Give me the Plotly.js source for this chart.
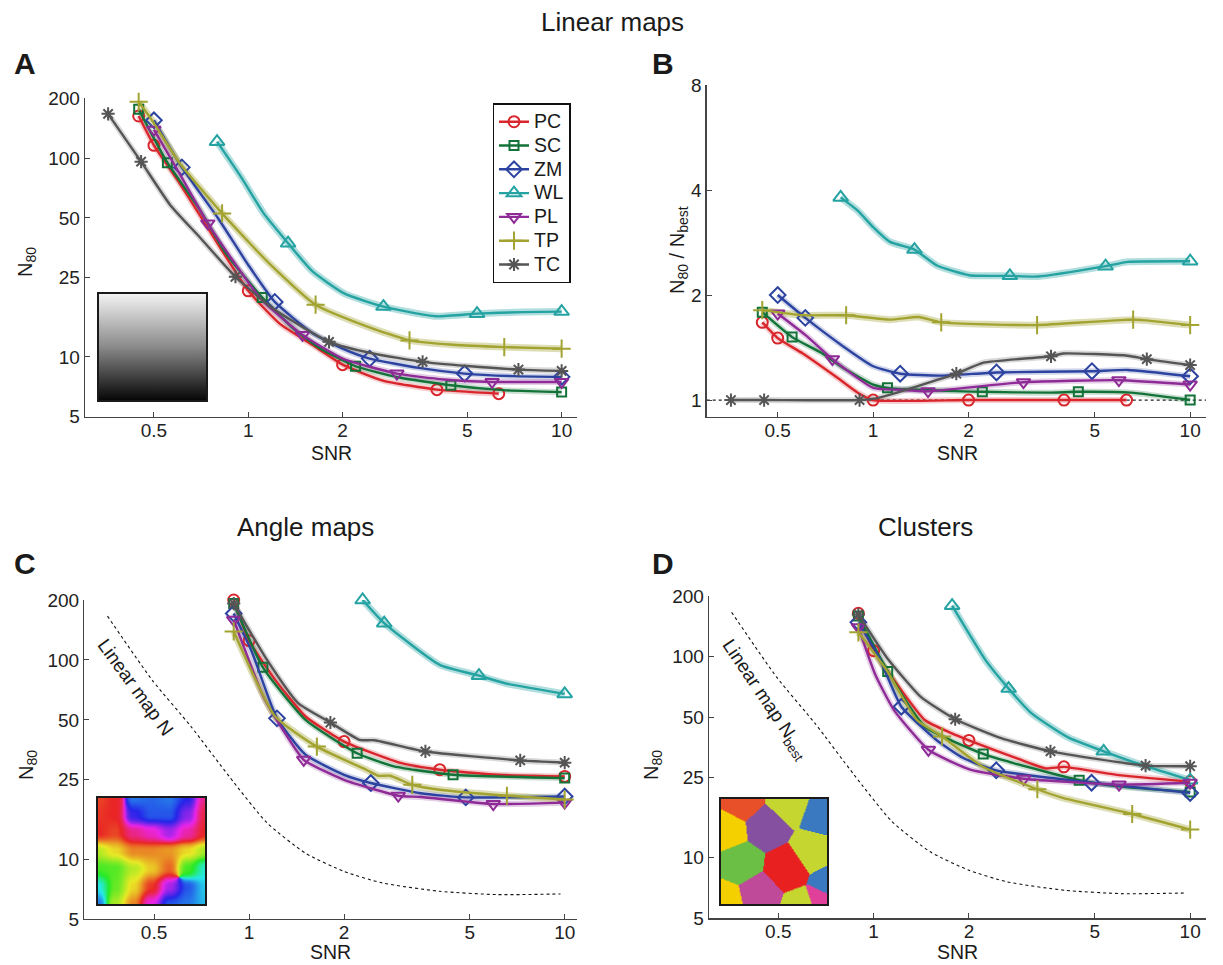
<!DOCTYPE html>
<html><head><meta charset="utf-8">
<script src="https://cdn.plot.ly/plotly-3.0.1.min.js"></script>
<style>html,body{margin:0;padding:0;background:#fff}#chart{width:1223px;height:965px}</style>
</head><body><div id="chart"></div>
<script>
// ---------------- DATA ----------------
const seriesNames = ['PC','SC','ZM','WL','PL','TP','TC'];
const snrTicks = [0.5, 1, 2, 5, 10];
const nTicks = [5, 10, 25, 50, 100, 200];
const ratioTicks = [1, 2, 4, 8];

// Panel A: Linear maps, N80
const A_PC_snr = [0.447,0.5,0.6,0.74,1.0,1.26,1.6,2.0,2.69,4.0,6.3];
const A_PC_n   = [163,116,76,45,21.5,14.7,11.5,9.14,7.6,6.84,6.53];
const A_PC_mk  = [0,1,4,7,9,10];
const A_SC_snr = [0.447,0.552,0.7,0.85,1.108,1.4,1.7,2.2,3.0,4.43,6.5,10];
const A_SC_n   = [176,94.8,55,33,19.9,13.8,11,8.97,7.9,7.2,6.8,6.65];
const A_SC_mk  = [0,1,4,7,9,11];
const A_ZM_snr = [0.5,0.614,0.8,1.0,1.215,1.6,2.0,2.44,3.5,4.9,7,10];
const A_ZM_n   = [155,89.8,50,29,18.9,13.2,11,9.8,8.8,8.24,8.0,7.93];
const A_ZM_mk  = [0,1,4,7,9,11];
const A_WL_snr = [0.795,0.95,1.12,1.34,1.6,2.03,2.7,3.98,5.37,7.5,10];
const A_WL_n   = [121,80,52.7,37.3,27,20.8,17.9,16.0,16.5,16.8,16.9];
const A_WL_mk  = [0,3,6,8,10];
const A_PL_snr = [0.5,0.6,0.743,0.9,1.1,1.49,2.0,2.98,4.2,6.0,10];
const A_PL_n   = [139,85,46.9,30,19.5,12.9,9.8,8.24,7.7,7.48,7.48];
const A_PL_mk  = [0,2,5,7,9,10];
const A_TP_snr = [0.447,0.5,0.605,0.825,1.0,1.155,1.64,2.4,3.27,4.5,6.56,10];
const A_TP_n   = [192,150,94,52.7,38,30,18.3,14.2,12.1,11.5,11.2,11.0];
const A_TP_mk  = [0,3,6,8,10,11];
const A_TC_snr = [0.357,0.455,0.564,0.7,0.91,1.2,1.81,2.5,3.6,5,7.28,10];
const A_TC_n   = [167,96,58,40,25.3,17.5,11.9,10.4,9.44,9.0,8.63,8.5];
const A_TC_mk  = [0,1,4,6,8,10,11];

// Panel B: Linear maps, N80 / Nbest
const B_PC_snr = [0.447,0.5,0.6,0.76,0.894,1.0,2.0,4.0,6.3];
const B_PC_r   = [1.67,1.505,1.36,1.17,1.05,1.0,1.0,1.0,1.0];
const B_PC_mk  = [0,1,5,6,7,8];
const B_SC_snr = [0.447,0.555,0.688,0.805,1.0,1.11,2.21,3.58,4.44,6.5,10];
const B_SC_r   = [1.785,1.515,1.364,1.236,1.108,1.084,1.056,1.05,1.056,1.05,1.0];
const B_SC_mk  = [0,1,5,6,8,10];
const B_ZM_snr = [0.5,0.611,0.805,1.0,1.217,1.63,2.45,4.9,6.36,10];
const B_ZM_r   = [2.0,1.72,1.425,1.25,1.19,1.175,1.2,1.21,1.22,1.17];
const B_ZM_mk  = [0,1,4,6,7,9];
const B_WL_snr = [0.79,0.894,1.0,1.13,1.35,1.59,2.01,2.7,3.31,5.41,6.36,10];
const B_WL_r   = [3.81,3.49,3.13,2.84,2.70,2.43,2.28,2.27,2.26,2.42,2.49,2.5];
const B_WL_mk  = [0,4,7,9,11];
const B_PL_snr = [0.5,0.62,0.744,1.0,1.22,1.49,2.98,5.96,10];
const B_PL_r   = [1.77,1.52,1.31,1.084,1.07,1.06,1.125,1.14,1.108];
const B_PL_mk  = [0,2,5,6,7,8];
const B_TP_snr = [0.447,0.6,0.822,1.13,1.39,1.64,3.29,6.61,10];
const B_TP_r   = [1.81,1.75,1.75,1.70,1.73,1.67,1.64,1.70,1.64];
const B_TP_mk  = [0,2,5,6,7,8];
const B_TC_snr = [0.356,0.453,0.906,1.04,1.83,2.23,3.64,3.97,6.36,7.3,10];
const B_TC_r   = [1.0,1.0,1.0,1.015,1.19,1.28,1.335,1.36,1.34,1.31,1.26];
const B_TC_mk  = [0,1,2,4,6,9,10];

// Panel C: Angle maps, N80
const C_PC_snr = [0.894,1.0,1.21,1.51,2.0,3.04,4.02,6.11,10];
const C_PC_n   = [200,125,79.4,52,38.9,30.3,28.1,26.5,26.0];
const C_PC_mk  = [0,1,4,6,8];
const C_SC_snr = [0.894,1.106,1.51,2.2,2.88,4.43,10];
const C_SC_n   = [192,91.8,50,34,29.2,26.5,25.5];
const C_SC_mk  = [0,1,3,5,6];
const C_ZM_snr = [0.894,1.02,1.226,1.51,2.0,2.43,3.5,4.86,10];
const C_ZM_n   = [171,110,50.9,33.4,26.5,24.1,21.4,20.4,20.6];
const C_ZM_mk  = [0,2,5,7,8];
const C_WL_snr = [2.29,2.68,4.02,5.35,6.47,10];
const C_WL_n   = [200,153,94.4,83.4,76.4,67.5];
const C_WL_mk  = [0,1,3,5];
const C_PL_snr = [0.894,1.11,1.28,1.49,2.0,2.97,3.5,5.94,10];
const C_PL_n   = [159,65.5,44.6,31.5,25,20.8,20.5,18.9,19.2];
const C_PL_mk  = [0,3,5,7,8];
const C_TP_snr = [0.894,1.21,1.64,2.36,2.57,2.8,3.29,4.02,6.56,10];
const C_TP_n   = [139,52,36.7,28,26.2,26.2,23.6,22.3,20.8,19.9];
const C_TP_mk  = [0,2,6,8,9];
const C_TC_snr = [0.894,1.14,1.43,1.81,2.24,2.5,3.62,7.23,10];
const C_TC_n   = [192,100,60.7,48.5,39.7,39.5,34.7,31.3,30.5];
const C_TC_mk  = [0,3,6,7,8];

// Linear map best N (dashed reference in C and D)
const LIN_snr = [0.356,0.494,0.654,0.865,1.14,1.51,2.0,2.64,4.02,6.11,9.7];
const LIN_n   = [166,79,46.4,26,15.2,10.7,8.67,7.59,6.89,6.63,6.68];

// Panel D: Clusters, N80
const D_PC_snr = [0.895,1.0,1.16,1.45,1.76,2.0,2.9,3.5,3.99,5.8,10];
const D_PC_n   = [164,107,76.3,48.4,41.6,38.3,30.8,27.8,28.3,25.9,23.9];
const D_PC_mk  = [0,1,5,8,10];
const D_SC_snr = [0.895,1.108,1.45,2.22,2.75,4.46,5.8,10];
const D_SC_n   = [159,84.3,44.9,32.8,29.6,24.3,22.7,21.2];
const D_SC_mk  = [0,1,3,5,7];
const D_ZM_snr = [0.895,1.04,1.224,1.58,1.92,2.44,4.88,10];
const D_ZM_n   = [148,99,56.3,38.5,31.3,27.2,23.6,21.0];
const D_ZM_mk  = [0,2,5,6,7];
const D_WL_snr = [1.77,2.26,2.67,3.15,3.62,4.16,5.33,7.23,10];
const D_WL_n   = [179,95.7,69.3,52.3,44.9,39.3,33.8,28.5,24.3];
const D_WL_mk  = [0,2,6,8];
const D_PL_snr = [0.895,1.01,1.16,1.49,2.02,2.98,5.96,10];
const D_PL_n   = [140,82,54.2,34.4,27.4,24.7,23.1,23.6];
const D_PL_mk  = [0,3,5,6,7];
const D_TP_snr = [0.895,1.1,1.37,1.645,2.2,3.29,3.93,6.56,10];
const D_TP_n   = [132,85.3,48.4,40.1,28.5,21.9,19.9,16.5,13.8];
const D_TP_mk  = [0,3,5,7,8];
const D_TC_snr = [0.895,1.1,1.41,1.81,2.53,3.62,7.23,10];
const D_TC_n   = [162,99,63,48.8,39.3,33.8,28.7,28.5];
const D_TC_mk  = [0,3,5,6,7];

// ---------------- STYLE ----------------
const W = 1223, H = 965;
const colors = {PC:'#d8262c', SC:'#137238', ZM:'#2d43a0', WL:'#25a2a2', PL:'#8e2b96', TP:'#a2a331', TC:'#555555'};
const symbols = {PC:'circle-open', SC:'square-open', ZM:'diamond-open', WL:'triangle-up-open',
                 PL:'triangle-down-open', TP:'cross-thin-open', TC:'asterisk-open'};
const msize = {PC:11, SC:9, ZM:12, WL:13, PL:12, TP:13, TC:11};
const FONT = 'Liberation Sans, Arial, Helvetica, sans-serif';

const panelData = [
  {xa:'x', ya:'y', d:{PC:[A_PC_snr,A_PC_n,A_PC_mk],SC:[A_SC_snr,A_SC_n,A_SC_mk],ZM:[A_ZM_snr,A_ZM_n,A_ZM_mk],
     WL:[A_WL_snr,A_WL_n,A_WL_mk],PL:[A_PL_snr,A_PL_n,A_PL_mk],TP:[A_TP_snr,A_TP_n,A_TP_mk],TC:[A_TC_snr,A_TC_n,A_TC_mk]}},
  {xa:'x2', ya:'y2', d:{PC:[B_PC_snr,B_PC_r,B_PC_mk],SC:[B_SC_snr,B_SC_r,B_SC_mk],ZM:[B_ZM_snr,B_ZM_r,B_ZM_mk],
     WL:[B_WL_snr,B_WL_r,B_WL_mk],PL:[B_PL_snr,B_PL_r,B_PL_mk],TP:[B_TP_snr,B_TP_r,B_TP_mk],TC:[B_TC_snr,B_TC_r,B_TC_mk]}},
  {xa:'x3', ya:'y3', d:{PC:[C_PC_snr,C_PC_n,C_PC_mk],SC:[C_SC_snr,C_SC_n,C_SC_mk],ZM:[C_ZM_snr,C_ZM_n,C_ZM_mk],
     WL:[C_WL_snr,C_WL_n,C_WL_mk],PL:[C_PL_snr,C_PL_n,C_PL_mk],TP:[C_TP_snr,C_TP_n,C_TP_mk],TC:[C_TC_snr,C_TC_n,C_TC_mk]}},
  {xa:'x4', ya:'y4', d:{PC:[D_PC_snr,D_PC_n,D_PC_mk],SC:[D_SC_snr,D_SC_n,D_SC_mk],ZM:[D_ZM_snr,D_ZM_n,D_ZM_mk],
     WL:[D_WL_snr,D_WL_n,D_WL_mk],PL:[D_PL_snr,D_PL_n,D_PL_mk],TP:[D_TP_snr,D_TP_n,D_TP_mk],TC:[D_TC_snr,D_TC_n,D_TC_mk]}}
];

const traces = [];
// dashed linear-map reference in C and D
['x3','x4'].forEach((xa,i)=>{
  traces.push({x:LIN_snr, y:LIN_n, xaxis:xa, yaxis:(i===0?'y3':'y4'), mode:'lines', showlegend:false,
    line:{color:'#111', width:1.1, dash:'3px,3px', shape:'spline', smoothing:0.6}, hoverinfo:'skip'});
});
panelData.forEach(p=>{
  // soft band under each curve
  seriesNames.forEach(s=>{
    const [x,y] = p.d[s];
    traces.push({x, y, xaxis:p.xa, yaxis:p.ya, mode:'lines', showlegend:false, hoverinfo:'skip',
      opacity:(s==='TP'||s==='WL')?0.35:0.22,
      line:{color:colors[s], width:(s==='TP'||s==='WL')?7:6, shape:'spline', smoothing:0.5}});
  });
  seriesNames.forEach(s=>{
    const [x,y,mk] = p.d[s];
    traces.push({x, y, xaxis:p.xa, yaxis:p.ya, mode:'lines', showlegend:false, hoverinfo:'skip',
      line:{color:colors[s], width:2.4, shape:'spline', smoothing:0.5}});
    traces.push({x:mk.map(i=>x[i]), y:mk.map(i=>y[i]), xaxis:p.xa, yaxis:p.ya, mode:'markers',
      showlegend:false, hoverinfo:'skip', cliponaxis:false,
      marker:{symbol:symbols[s], size:msize[s], color:colors[s], line:{color:colors[s], width:2}}});
  });
});
// legend entries
seriesNames.forEach(s=>{
  traces.push({x:[null], y:[null], xaxis:'x', yaxis:'y', mode:'lines+markers',
    name:'<span style="font-size:19.5px">'+s+'</span>', showlegend:true,
    line:{color:colors[s], width:2.4},
    marker:{symbol:symbols[s], size:msize[s], color:colors[s], line:{color:colors[s], width:2}}});
});

// ---------------- INSET IMAGES (decorative) ----------------
function hsl2rgb(h,s,l){
  h=((h%360)+360)%360/360;
  const q=l<0.5?l*(1+s):l+s-l*s, p=2*l-q;
  const f=t=>{t=(t%1+1)%1; if(t<1/6)return p+(q-p)*6*t; if(t<1/2)return q; if(t<2/3)return p+(q-p)*(2/3-t)*6; return p;};
  return [f(h+1/3)*255,f(h)*255,f(h-1/3)*255];
}
function grayImg(){
  const c=document.createElement('canvas'); c.width=110; c.height=110;
  const g=c.getContext('2d'); const gr=g.createLinearGradient(0,0,0,110);
  gr.addColorStop(0,'#f5f5f5'); gr.addColorStop(0.5,'#8a8a8a'); gr.addColorStop(1,'#050505');
  g.fillStyle=gr; g.fillRect(0,0,110,110); return c.toDataURL();
}
function angleImg(){
  // coarse hue sketch of the orientation map, smoothly interpolated as unit vectors
  const G=[[10,0,215,220,215,240,330],
           [5,0,245,225,225,270,350],
           [0,10,330,310,280,320,0],
           [75,55,30,30,35,55,80],
           [110,105,75,50,20,110,170],
           [180,100,55,5,280,225,190],
           [215,80,30,300,225,215,195]];
  const n=G.length-1, w=110,h=110,c=document.createElement('canvas'); c.width=w; c.height=h;
  const g=c.getContext('2d'), im=g.createImageData(w,h);
  const sm=t=>t*t*(3-2*t);
  for(let j=0;j<h;j++)for(let i=0;i<w;i++){
    const gx=i/(w-1)*n, gy=j/(h-1)*n;
    const i0=Math.min(n-1,Math.floor(gx)), j0=Math.min(n-1,Math.floor(gy));
    const fx=sm(gx-i0), fy=sm(gy-j0);
    let cx=0, cy=0;
    [[0,0,(1-fx)*(1-fy)],[1,0,fx*(1-fy)],[0,1,(1-fx)*fy],[1,1,fx*fy]].forEach(([di,dj,wt])=>{
      const a=G[j0+dj][i0+di]*Math.PI/180; cx+=wt*Math.cos(a); cy+=wt*Math.sin(a);
    });
    const hue=Math.atan2(cy,cx)*180/Math.PI;
    const [r,gg,b]=hsl2rgb(hue,0.82,0.53);
    const k=4*(j*w+i); im.data[k]=r; im.data[k+1]=gg; im.data[k+2]=b; im.data[k+3]=255;
  }
  g.putImageData(im,0,0); return c.toDataURL();
}
function voronoiImg(){
  const w=110,h=110,c=document.createElement('canvas'); c.width=w; c.height=h;
  const g=c.getContext('2d'), im=g.createImageData(w,h);
  const S=[[0.20,0.03,[232,80,42]],[0.42,0.26,[134,80,160]],[0.63,0.04,[197,214,48]],[0.95,0.15,[58,120,192]],
           [0.06,0.30,[245,208,0]],[0.18,0.60,[108,191,69]],[0.62,0.66,[232,32,32]],[0.86,0.50,[197,214,48]],
           [0.36,0.90,[192,74,154]],[0.03,0.97,[245,208,0]],[0.94,0.97,[224,64,154]],[1.02,0.80,[58,120,192]],
           [0.76,1.03,[197,214,48]]];
  for(let j=0;j<h;j++)for(let i=0;i<w;i++){
    const u=i/w,v=j/h; let best=1e9,col=null;
    S.forEach(([a,b,cl])=>{const d=(u-a)*(u-a)+(v-b)*(v-b); if(d<best){best=d;col=cl;}});
    const k=4*(j*w+i); im.data[k]=col[0]; im.data[k+1]=col[1]; im.data[k+2]=col[2]; im.data[k+3]=255;
  }
  g.putImageData(im,0,0); return c.toDataURL();
}
const insets = [[grayImg(),98,293,109,108],[angleImg(),97,797,109,108],[voronoiImg(),720,798,108,107]];
const images = insets.map(([src,x,y,w,h])=>({source:src, xref:'paper', yref:'paper', x:x/W, y:1-y/H,
  sizex:w/W, sizey:h/H, xanchor:'left', yanchor:'top', sizing:'stretch', layer:'above'}));
const shapes = insets.map(([src,x,y,w,h])=>({type:'rect', xref:'paper', yref:'paper', x0:x/W, x1:(x+w)/W,
  y0:1-(y+h)/H, y1:1-y/H, line:{color:'#1a1a1a', width:2}, layer:'above'}));
shapes.push({type:'line', xref:'x2 domain', yref:'y2', x0:0, x1:1, y0:1, y1:1,
  line:{color:'#222', width:1.2, dash:'dot'}, layer:'below'});

// ---------------- AXES ----------------
function xAx(x0,x1,range,anchor){
  return {type:'log', domain:[x0/W,x1/W], range, anchor, tickvals:snrTicks, ticktext:snrTicks.map(String),
    ticks:'inside', ticklen:5, tickwidth:1, tickcolor:'#444', showline:true, linecolor:'#444', linewidth:1.3,
    ticklabelstandoff:-4,
    showgrid:false, zeroline:false, tickfont:{size:19, color:'#222', family:FONT}, fixedrange:true};
}
function yAx(top,bot,range,anchor,tv){
  return {type:'log', domain:[1-bot/H,1-top/H], range, anchor, tickvals:tv, ticktext:tv.map(String),
    ticks:'inside', ticklen:5, tickwidth:1, tickcolor:'#444', showline:true, linecolor:'#444', linewidth:1.3,
    showgrid:false, zeroline:false, tickfont:{size:19, color:'#222', family:FONT}, fixedrange:true};
}
const L10 = Math.log10;
function ann(text,x,y,size,extra){
  return Object.assign({text, x:x/W, y:1-y/H, xref:'paper', yref:'paper', showarrow:false,
    xanchor:'center', yanchor:'middle', font:{size, color:'#1a1a1a', family:FONT}}, extra||{});
}
const annotations = [
  ann('Linear maps',612,22,26), ann('Angle maps',305,527,26), ann('Clusters',925,527,26),
  ann('<b>A</b>',25,64,30), ann('<b>B</b>',663,64,30), ann('<b>C</b>',25,563,30), ann('<b>D</b>',663,563,30),
  ann('N<sub>80</sub>',27,262,20,{textangle:-90}),
  ann('N<sub>80</sub> / N<sub>best</sub>',678,250,20,{textangle:-90}),
  ann('N<sub>80</sub>',27,765,20,{textangle:-90}),
  ann('N<sub>80</sub>',652,765,20,{textangle:-90}),
  ann('SNR',331,453,19.5), ann('SNR',957,453,19.5), ann('SNR',330,952,19.5), ann('SNR',957,952,19.5),
  ann('Linear map N',136,687,19,{textangle:54}),
  ann('Linear map N<sub>best</sub>',765,700,19,{textangle:56})
];

const layout = {
  width:W, height:H, margin:{l:0,r:0,t:0,b:0}, paper_bgcolor:'#fff', plot_bgcolor:'rgba(0,0,0,0)',
  font:{family:FONT, color:'#1a1a1a'},
  xaxis: xAx(85,577,[-0.521,1.049],'y'),
  yaxis: yAx(98.3,416.7,[L10(5),L10(200)],'x',nTicks),
  xaxis2: xAx(706.7,1206,[-0.525,1.05],'y2'),
  yaxis2: yAx(85,416.7,[L10(0.896),L10(8)],'x2',ratioTicks),
  xaxis3: xAx(84.3,577,[-0.522,1.039],'y3'),
  yaxis3: yAx(600,919,[L10(5),L10(200)],'x3',nTicks),
  xaxis4: xAx(709,1206,[-0.52,1.05],'y4'),
  yaxis4: yAx(596,918.3,[L10(5),L10(200)],'x4',nTicks),
  showlegend:true,
  legend:{x:492.5/W, y:1-103.3/H, xanchor:'left', yanchor:'top', bgcolor:'#fff', bordercolor:'#111',
    borderwidth:1.5, font:{size:16, family:FONT, color:'#1a1a1a'}, itemwidth:30, tracegroupgap:0},
  images, shapes, annotations
};
Plotly.newPlot('chart', traces, layout, {staticPlot:true});
</script></body></html>
